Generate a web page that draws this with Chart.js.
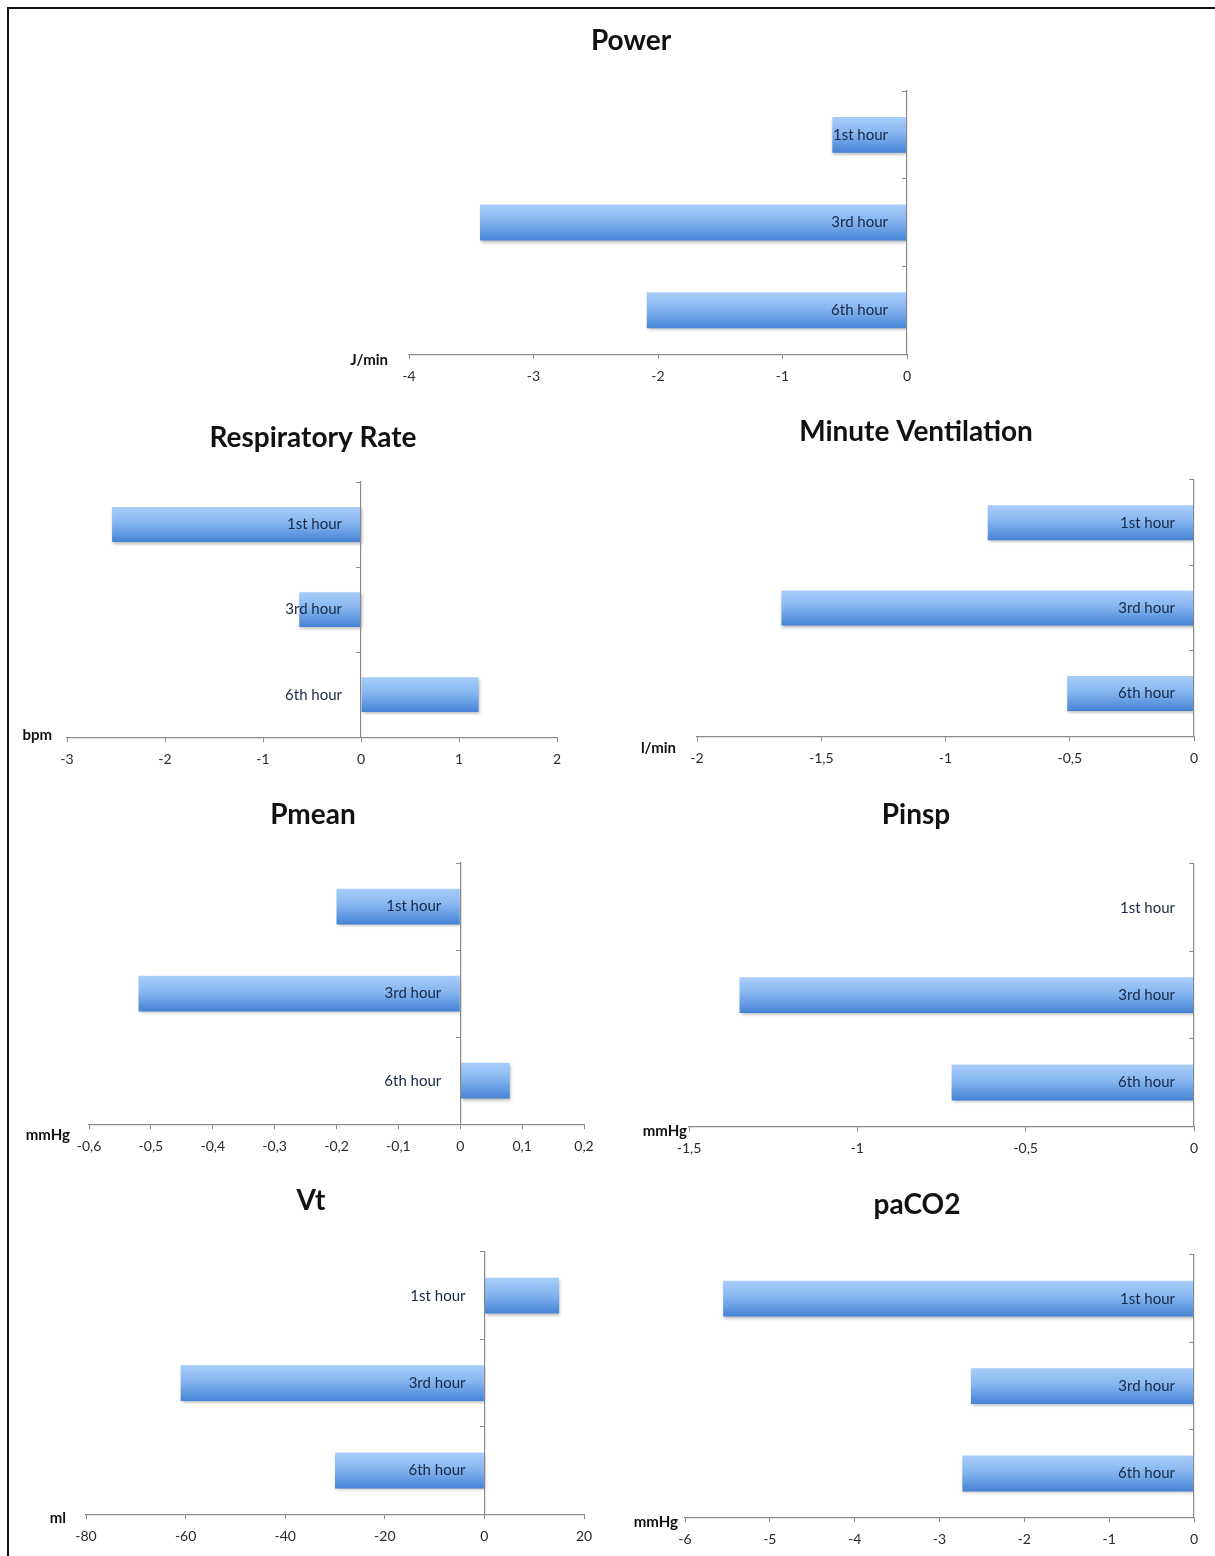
<!DOCTYPE html>
<html>
<head>
<meta charset="utf-8">
<script src="https://cdn.jsdelivr.net/npm/chart.js@4.4.1/dist/chart.umd.min.js"></script>
<style>
  html, body { margin: 0; padding: 0; background: #fff; }
  #page { position: relative; width: 1215px; height: 1556px; overflow: hidden; }
  #frame { position: absolute; left: 7px; top: 7px; width: 1220px; height: 1560px;
           border-top: 2px solid #111; border-left: 2px solid #111; }
  canvas { position: absolute; }
</style>
</head>
<body>
<div id="page"><div id="frame"></div></div>
<script>
// categories
const hours = ['1st hour', '3rd hour', '6th hour'];

// one chart per parameter: titles, units, values (change from baseline)
const titles = ['Power', 'Respiratory Rate', 'Minute Ventilation', 'Pmean', 'Pinsp', 'Vt', 'paCO2'];
const units = ['J/min', 'bpm', 'l/min', 'mmHg', 'mmHg', 'ml', 'mmHg'];

const powerVals = [-0.6, -3.43, -2.09];
const respRateVals = [-2.54, -0.63, 1.2];
const minVentVals = [-0.83, -1.66, -0.51];
const pmeanVals = [-0.2, -0.52, 0.08];
const pinspVals = [0, -1.35, -0.72];
const vtVals = [15, -61, -30];
const paco2Vals = [-5.55, -2.63, -2.73];

const seriesValues = [powerVals, respRateVals, minVentVals, pmeanVals, pinspVals, vtVals, paco2Vals];

// x axis ticks
const axisMin = [-4, -3, -2, -0.6, -1.5, -80, -6];
const axisMax = [0, 2, 0, 0.2, 0, 20, 0];
const axisStep = [1, 1, 0.5, 0.1, 0.5, 20, 1];

// page layout in px: canvas box [x, y, w, h], plot area [left, top, right, bottom],
// title centre, unit label right end / middle
const panels = [
  { box: [300, 15, 700, 385], area: [409, 91, 907, 353], title: [631, 41], unit: [388, 360] },
  { box: [15, 405, 595, 370], area: [67, 482, 557, 736], title: [313, 438], unit: [52, 735] },
  { box: [615, 405, 597, 370], area: [697, 480, 1194, 735], title: [916, 432], unit: [676, 748] },
  { box: [15, 790, 595, 375], area: [89, 863, 584, 1123], title: [313, 815], unit: [70, 1135] },
  { box: [615, 790, 597, 375], area: [689, 864, 1194, 1125], title: [916, 815], unit: [687, 1131] },
  { box: [15, 1172, 595, 382], area: [86, 1252, 584, 1513], title: [311, 1201], unit: [66, 1518] },
  { box: [615, 1172, 597, 382], area: [685, 1255, 1194, 1516], title: [917, 1205], unit: [678, 1522] }
];

const FONT = 'Lato, "Open Sans", sans-serif';
const TICK_SIZE = 14;
const TICK_PAD = 9;
const X_AXIS_H = 5 + TICK_SIZE * 1.2 + 2 * TICK_PAD + 1.2;
const BAR_PCT = 0.41;

function fmt(v) {
  const r = Math.round(v * 100) / 100;
  return String(r).replace('.', ',');
}

function barFill(ctx) {
  const chart = ctx.chart;
  const y = chart.scales && chart.scales.y;
  const fallback = '#7aaeee';
  if (!y || ctx.type !== 'data') return fallback;
  const band = (y.bottom - y.top) / hours.length;
  const yc = y.getPixelForValue(ctx.dataIndex);
  const h = band * BAR_PCT;
  if (!Number.isFinite(yc) || !Number.isFinite(h) || h <= 0) return fallback;
  const g = chart.ctx.createLinearGradient(0, yc - h / 2, 0, yc + h / 2);
  g.addColorStop(0, '#a9cdf9');
  g.addColorStop(0.45, '#86b6f1');
  g.addColorStop(1, '#4583d5');
  return g;
}

const barShadow = {
  id: 'barShadow',
  beforeDatasetsDraw(chart) {
    const c = chart.ctx;
    c.save();
    c.shadowColor = 'rgba(0,0,0,0.28)';
    c.shadowBlur = 3;
    c.shadowOffsetX = 1;
    c.shadowOffsetY = 2;
  },
  afterDatasetsDraw(chart) { chart.ctx.restore(); }
};

const annotations = {
  id: 'annotations',
  afterDraw(chart, args, opts) {
    const c = chart.ctx;
    c.save();
    c.fillStyle = '#111';
    c.textBaseline = 'middle';
    c.textAlign = 'center';
    c.font = 'bold 28px ' + FONT;
    c.fillText(opts.title, opts.tx, opts.ty);
    c.textAlign = 'right';
    c.font = 'bold 15px ' + FONT;
    c.fillText(opts.unit, opts.ux, opts.uy);
    c.restore();
  }
};

const page = document.getElementById('page');

panels.forEach((p, i) => {
  const [bx, by, bw, bh] = p.box;
  const [al, at, ar, ab] = p.area;
  const canvas = document.createElement('canvas');
  canvas.width = bw;
  canvas.height = bh;
  canvas.style.left = bx + 'px';
  canvas.style.top = by + 'px';
  canvas.style.width = bw + 'px';
  canvas.style.height = bh + 'px';
  page.appendChild(canvas);

  new Chart(canvas, {
    type: 'bar',
    data: {
      labels: hours,
      datasets: [{
        data: seriesValues[i],
        backgroundColor: barFill,
        borderWidth: 0,
        barPercentage: BAR_PCT,
        categoryPercentage: 1
      }]
    },
    options: {
      indexAxis: 'y',
      responsive: false,
      animation: false,
      events: [],
      layout: {
        padding: {
          left: al - bx,
          right: bx + bw - ar,
          top: at - by,
          bottom: by + bh - ab - X_AXIS_H
        }
      },
      scales: {
        x: {
          type: 'linear',
          position: 'bottom',
          min: axisMin[i],
          max: axisMax[i],
          ticks: {
            stepSize: axisStep[i],
            padding: TICK_PAD,
            color: '#2a2a2a',
            font: { family: FONT, size: TICK_SIZE },
            callback: v => fmt(v)
          },
          grid: { drawOnChartArea: false, tickLength: 5, color: '#8a8a8a' },
          border: { color: '#8a8a8a', width: 1.2 }
        },
        y: {
          type: 'category',
          position: { x: 0 },
          ticks: {
            z: 1,
            color: '#1a2744',
            font: { family: FONT, size: 15 },
            callback: (v, idx) => hours[idx] + '\u2003  '
          },
          grid: { offset: true, drawOnChartArea: false, tickLength: 4, color: '#8a8a8a' },
          border: { z: 1, color: '#8a8a8a', width: 1.2 }
        }
      },
      plugins: {
        legend: { display: false },
        tooltip: { enabled: false },
        annotations: {
          title: titles[i],
          unit: units[i],
          tx: p.title[0] - bx,
          ty: p.title[1] - by,
          ux: p.unit[0] - bx,
          uy: p.unit[1] - by
        }
      }
    },
    plugins: [barShadow, annotations]
  });
});
</script>
</body>
</html>
